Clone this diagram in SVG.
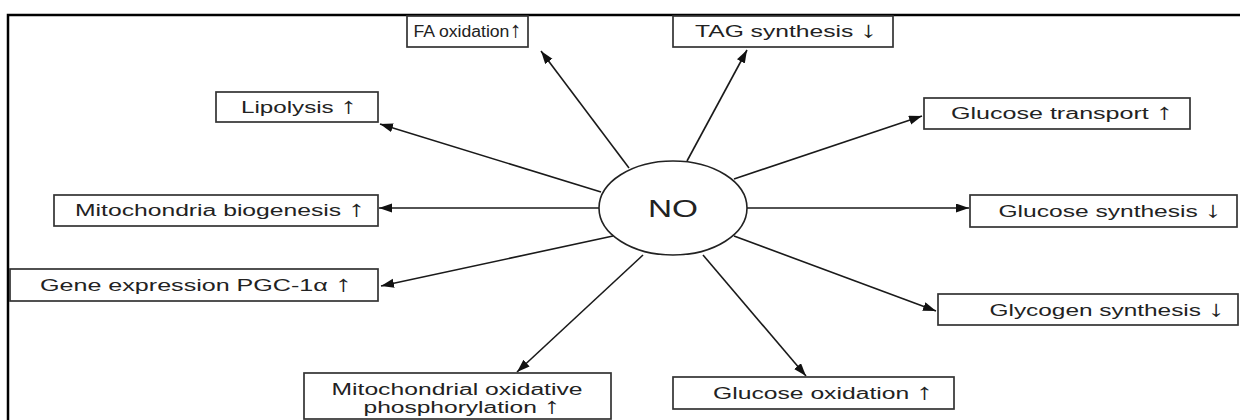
<svg xmlns="http://www.w3.org/2000/svg" width="1240" height="420" viewBox="0 0 1240 420">
<style>
.box{fill:#fff;stroke:#333;stroke-width:1.7}
.t{font-family:"Liberation Sans",Arial,sans-serif;font-size:16px;fill:#222;text-anchor:middle}
.ar{font-size:22px}
.c{stroke:#1a1a1a;stroke-width:1.6;fill:none;marker-end:url(#ah)}
.frame{stroke:#000;stroke-width:2.5;fill:none}
</style>
<defs>
<marker id="ah" markerUnits="userSpaceOnUse" markerWidth="14" markerHeight="10" refX="13" refY="4.5" orient="auto">
<path d="M0,0 L13,4.5 L0,9 z" fill="#111"/>
</marker>
</defs>
<rect width="1240" height="420" fill="#fff"/>
<path class="frame" d="M8,420 L8,15 L1240,15"/>
<g id="connectors">
<line class="c" x1="629" y1="168" x2="541" y2="51"/>
<line class="c" x1="687" y1="161" x2="747" y2="50"/>
<line class="c" x1="601" y1="192" x2="380" y2="124"/>
<line class="c" x1="599" y1="208" x2="379" y2="208"/>
<line class="c" x1="613" y1="236" x2="381" y2="286"/>
<line class="c" x1="643" y1="255" x2="517" y2="372"/>
<line class="c" x1="703" y1="255" x2="806" y2="376"/>
<line class="c" x1="734" y1="236" x2="936" y2="311"/>
<line class="c" x1="747" y1="208" x2="969" y2="208"/>
<line class="c" x1="734" y1="179" x2="922" y2="116"/>
</g>
<g id="no">
<ellipse cx="673" cy="208" rx="74" ry="47" fill="#fff" stroke="#222" stroke-width="1.6"/>
<text class="t" x="673" y="216.5" textLength="50" lengthAdjust="spacingAndGlyphs" style="font-size:23px">NO</text>
</g>
<g id="fa-oxidation">
<rect class="box" x="407" y="16" width="121" height="31"/>
<text class="t" x="467.5" y="37" textLength="108" lengthAdjust="spacingAndGlyphs">FA oxidation<tspan class="ar">↑</tspan></text>
</g>
<g id="tag-synthesis">
<rect class="box" x="673" y="16" width="220" height="31"/>
<text class="t" x="786" y="37" textLength="182" lengthAdjust="spacingAndGlyphs">TAG synthesis <tspan class="ar">↓</tspan></text>
</g>
<g id="lipolysis">
<rect class="box" x="216" y="92" width="162" height="30"/>
<text class="t" x="299" y="113" textLength="116" lengthAdjust="spacingAndGlyphs">Lipolysis <tspan class="ar">↑</tspan></text>
</g>
<g id="glucose-transport">
<rect class="box" x="924" y="98" width="266" height="31"/>
<text class="t" x="1062" y="119" textLength="222" lengthAdjust="spacingAndGlyphs">Glucose transport <tspan class="ar">↑</tspan></text>
</g>
<g id="mito-biogenesis">
<rect class="box" x="54" y="195" width="324" height="31"/>
<text class="t" x="220" y="216" textLength="290" lengthAdjust="spacingAndGlyphs">Mitochondria biogenesis <tspan class="ar">↑</tspan></text>
</g>
<g id="glucose-synthesis">
<rect class="box" x="970" y="195" width="267" height="32"/>
<text class="t" x="1110" y="217" textLength="223" lengthAdjust="spacingAndGlyphs">Glucose synthesis <tspan class="ar">↓</tspan></text>
</g>
<g id="gene-expression">
<rect class="box" x="10" y="269" width="368" height="32"/>
<text class="t" x="196" y="291" textLength="312" lengthAdjust="spacingAndGlyphs">Gene expression PGC-1α <tspan class="ar">↑</tspan></text>
</g>
<g id="glycogen-synthesis">
<rect class="box" x="938" y="294" width="300" height="31"/>
<text class="t" x="1107" y="316" textLength="235" lengthAdjust="spacingAndGlyphs">Glycogen synthesis <tspan class="ar">↓</tspan></text>
</g>
<g id="mito-oxphos">
<rect class="box" x="304" y="373" width="307" height="46"/>
<text class="t" x="457" y="395" textLength="251" lengthAdjust="spacingAndGlyphs">Mitochondrial oxidative</text>
<text class="t" x="462" y="413" textLength="197" lengthAdjust="spacingAndGlyphs">phosphorylation <tspan class="ar">↑</tspan></text>
</g>
<g id="glucose-oxidation">
<rect class="box" x="673" y="377" width="281" height="32"/>
<text class="t" x="823" y="399" textLength="220" lengthAdjust="spacingAndGlyphs">Glucose oxidation <tspan class="ar">↑</tspan></text>
</g>
</svg>
